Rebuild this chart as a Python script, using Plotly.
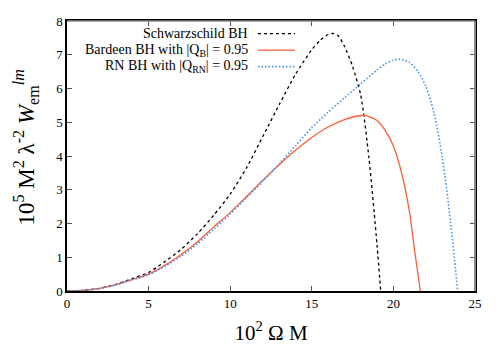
import plotly.graph_objects as go

# 10^2 Omega M  vs  10^5 M^2 lambda^-2 W_em^lm
schw_x = [0, 1, 2, 3, 4, 5, 6, 7, 8, 9, 10, 11, 12, 13, 14, 15, 15.5, 16, 16.3, 16.6, 17, 17.5, 18, 18.5, 19, 19.22]
schw_y = [0, 0.02, 0.08, 0.2, 0.37, 0.55, 0.87, 1.24, 1.7, 2.25, 2.87, 3.65, 4.58, 5.52, 6.42, 7.15, 7.42, 7.6, 7.63, 7.57, 7.25, 6.65, 5.8, 3.95, 1.35, 0]

bard_x = [0, 1, 2, 3, 4, 5, 6, 7, 8, 9, 10, 11, 12, 13, 14, 15, 16, 17, 18, 18.5, 19, 19.5, 20, 20.5, 21, 21.3, 21.65]
bard_y = [0, 0.02, 0.08, 0.19, 0.34, 0.5, 0.76, 1.08, 1.46, 1.9, 2.33, 2.8, 3.28, 3.74, 4.17, 4.55, 4.86, 5.08, 5.2, 5.17, 5.05, 4.75, 4.3, 3.5, 2.3, 1.2, 0]

rn_x = [0, 1, 2, 3, 4, 5, 6, 7, 8, 9, 10, 11, 12, 13, 14, 15, 16, 17, 18, 19, 19.5, 20, 20.4, 21, 21.5, 22, 22.5, 23, 23.5, 23.94]
rn_y = [0, 0.02, 0.07, 0.18, 0.33, 0.48, 0.73, 1.03, 1.4, 1.83, 2.28, 2.76, 3.25, 3.77, 4.3, 4.84, 5.3, 5.72, 6.14, 6.55, 6.73, 6.84, 6.87, 6.77, 6.5, 6.05, 5.25, 3.95, 2.05, 0]

labels = ["Schwarzschild BH",
          "Bardeen BH with |Q<sub>B</sub>| = 0.95",
          "RN BH with |Q<sub>RN</sub>| = 0.95"]
colors = ["#000000", "#ff5a36", "#3d95f0"]
dashes = ["3px,3px", "solid", "1.5px,2px"]
widths = [1.3, 1.3, 1.6]

serif = "Liberation Serif, Times New Roman, serif"

fig = go.Figure()
for xs, ys, c, d, w in zip([schw_x, bard_x, rn_x], [schw_y, bard_y, rn_y], colors, dashes, widths):
    fig.add_trace(go.Scatter(x=xs, y=ys, mode="lines", line=dict(color=c, dash=d, width=w, shape="spline", smoothing=0.7),
                             showlegend=False))

# legend drawn by hand: text right aligned, sample to the right
for i, (lab, c, d, w) in enumerate(zip(labels, colors, dashes, widths)):
    yy = 0.953 - i * 0.061
    fig.add_annotation(x=0.449, y=yy, xref="paper", yref="paper", text=lab, showarrow=False,
                       xanchor="right", yanchor="middle", font=dict(family=serif, size=14, color="black"))
    fig.add_shape(type="line", xref="paper", yref="paper", x0=0.468, x1=0.559, y0=yy, y1=yy,
                  line=dict(color=c, dash=d, width=w))

# grey top / right frame like the original
fig.add_shape(type="line", xref="paper", yref="paper", x0=0, x1=1, y0=1, y1=1, line=dict(color="#888", width=1.5))
fig.add_shape(type="line", xref="paper", yref="paper", x0=1, x1=1, y0=0, y1=1, line=dict(color="#888", width=2))

axis_common = dict(showline=True, linecolor="black", linewidth=1.5, mirror="ticks", ticks="inside", ticklen=5,
                   tickcolor="#555", showgrid=False, zeroline=False, tickfont=dict(family=serif, size=13, color="black"))
fig.update_xaxes(range=[0, 25], dtick=5,
                 title=dict(text="10<sup>2</sup> Ω M", font=dict(family=serif, size=21, color="black"), standoff=15),
                 **axis_common)
fig.update_yaxes(range=[0, 8], dtick=1,
                 title=dict(text="&nbsp;&nbsp;&nbsp;10<sup>5</sup> M<sup>2</sup> λ<sup>-2</sup> <i>W</i><sub>em</sub><sup><i>lm</i></sup>",
                            font=dict(family=serif, size=23, color="black"), standoff=15),
                 **axis_common)
# the page body adds 8px, so margins are shifted to keep the plot area in place
fig.update_layout(width=500, height=350, margin=dict(l=59, r=33, t=6, b=67),
                  plot_bgcolor="white", paper_bgcolor="white")
fig.write_html("out.html")
